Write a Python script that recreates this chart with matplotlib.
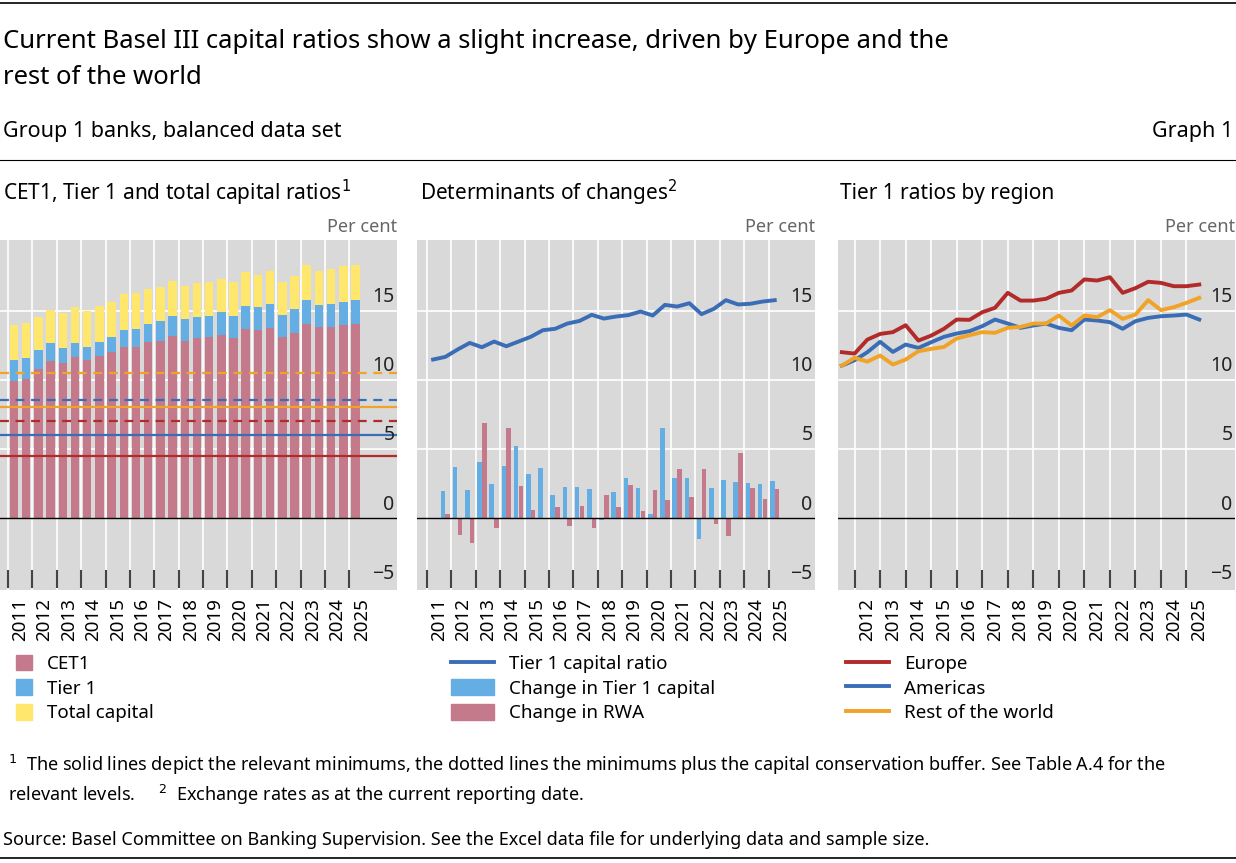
import matplotlib
matplotlib.use("Agg")
import matplotlib.pyplot as plt
from matplotlib.patches import Patch
from matplotlib.lines import Line2D
import numpy as np

plt.rcParams['font.family'] = ['Noto Sans', 'DejaVu Sans']

years_left = [str(y) for y in range(2011, 2026)]
years_right = [str(y) for y in range(2012, 2026)]

cet1 = [9.89,10.08,10.78,11.34,11.22,11.65,11.46,11.75,11.99,12.35,12.40,12.71,12.81,13.15,12.81,13.0,13.1,13.22,13.0,13.68,13.58,13.75,13.1,13.41,14.06,13.80,13.82,13.99,14.06]
tier1 = [11.41,11.60,12.18,12.64,12.30,12.69,12.35,12.74,13.07,13.56,13.68,14.06,14.25,14.64,14.38,14.57,14.64,14.86,14.64,15.36,15.29,15.48,14.71,15.12,15.73,15.41,15.49,15.65,15.73]
total = [13.99,14.11,14.52,15.07,14.83,15.27,14.98,15.36,15.65,16.21,16.26,16.59,16.71,17.12,16.79,16.98,17.05,17.25,17.03,17.78,17.56,17.85,17.10,17.53,18.28,17.87,18.02,18.19,18.31]
# (value, colour, dashed)
min_lines = [(10.5,'#f0a326',True),(8.5,'#3a6db5',True),(8.0,'#f0a326',False),
             (7.0,'#b22b2b',True),(6.0,'#3a6db5',False),(4.5,'#b22b2b',False)]

t1_ratio = [11.46,11.65,12.18,12.66,12.35,12.76,12.42,12.76,13.10,13.58,13.68,14.06,14.25,14.69,14.42,14.57,14.67,14.93,14.64,15.41,15.29,15.53,14.74,15.12,15.75,15.44,15.49,15.65,15.75]
chg_t1 = [1.93,3.67,2.05,4.03,2.46,3.74,5.23,3.21,3.62,1.69,2.27,2.22,2.12,-0.12,1.86,2.92,2.17,0.31,6.49,2.87,2.87,-1.50,2.17,2.75,2.60,2.56,2.44,2.70]
chg_rwa = [0.3,-1.2,-1.8,6.9,-0.7,6.5,2.3,0.6,0.0,0.8,-0.6,0.9,-0.7,1.7,0.8,2.4,0.5,2.05,1.3,3.57,1.5,3.55,-0.4,-1.3,4.7,2.2,1.4,2.1]

europe = [11.99,11.89,12.90,13.31,13.44,13.94,12.83,13.19,13.68,14.35,14.33,14.88,15.20,16.28,15.72,15.72,15.85,16.28,16.45,17.25,17.17,17.41,16.28,16.62,17.08,17.00,16.76,16.76,16.88]
americas = [11.02,11.41,11.99,12.74,12.01,12.54,12.30,12.71,13.10,13.34,13.51,13.87,14.35,14.06,13.75,13.92,14.06,13.75,13.58,14.35,14.28,14.16,13.68,14.23,14.47,14.59,14.64,14.71,14.35]
rest = [11.02,11.58,11.31,11.75,11.10,11.46,12.06,12.23,12.37,12.98,13.22,13.44,13.39,13.75,13.82,14.06,14.06,14.64,13.92,14.64,14.52,15.03,14.40,14.71,15.75,15.03,15.24,15.56,15.92]

C_CET1 = '#c47a8a'; C_T1 = '#64aee3'; C_TOT = '#ffe66d'
C_RED = '#b22b2b'; C_BLUE = '#3a6db5'; C_OR = '#f0a326'
BG = '#d9d9d9'

W, H = 1236, 863
fig = plt.figure(figsize=(W/100, H/100), dpi=100)

def px_axes(x0, x1, y0=240, y1=590):
    return fig.add_axes([x0/W, 1-y1/H, (x1-x0)/W, (y1-y0)/H])

YLIM = (-5.2, 20.1)

def style(ax, grid_x, label_x, labels, label_right):
    ax.set_facecolor(BG)
    for s in ax.spines.values():
        s.set_visible(False)
    ax.set_ylim(*YLIM)
    for v in [5, 10, 15]:
        ax.axhline(v, color='white', lw=1.2, zorder=0)
    for gx in grid_x:
        ax.axvline(gx, color='white', lw=1.2, zorder=0)
        ax.plot([gx, gx], [-3.8, -5.0], color='#444444', lw=1.5, zorder=3)
    ax.axhline(0, color='black', lw=1.0, zorder=4)
    ax.set_yticks([])
    ax.set_xticks(label_x)
    ax.set_xticklabels(labels, rotation=90, fontsize=13.5)
    ax.tick_params(axis='x', length=0, pad=6)
    for v in [-5, 0, 5, 10, 15]:
        ax.text(label_right, v + 0.25, '\u22125' if v < 0 else str(v), ha='right', va='bottom',
                fontsize=14, color='#222222', zorder=5)
    ax.text(1.0, 1.012, 'Per cent', transform=ax.transAxes, ha='right', va='bottom',
            fontsize=13, color='#666666')

n = len(cet1)
x = np.arange(n)
grid = np.arange(-0.5, n, 2)
lab_x = np.arange(0.5, n + 1, 2)

# Left panel
ax1 = px_axes(0, 397)
ax1.set_xlim(-1.15, 31.4)
ax1.bar(x, cet1, width=0.7, color=C_CET1, zorder=2)
ax1.bar(x, np.array(tier1) - np.array(cet1), bottom=cet1, width=0.7, color=C_T1, zorder=2)
ax1.bar(x, np.array(total) - np.array(tier1), bottom=tier1, width=0.7, color=C_TOT, zorder=2)
for v, c, d in min_lines:
    ax1.axhline(v, color=c, lw=1.6, ls=(0, (4, 3)) if d else '-', zorder=3)
style(ax1, grid, lab_x, years_left, 31.2)

# Middle panel
ax2 = px_axes(417, 815)
ax2.set_xlim(-1.32, 31.3)
xb = np.arange(1, n)
ax2.bar(xb - 0.2, chg_t1, width=0.38, color=C_T1, zorder=2)
ax2.bar(xb + 0.2, chg_rwa, width=0.38, color=C_CET1, zorder=2)
ax2.plot(x, t1_ratio, color=C_BLUE, lw=2.8, zorder=3)
style(ax2, grid, lab_x, years_left, 31.1)

# Right panel
ax3 = px_axes(838, 1235)
ax3.set_xlim(-0.3, 30.8)
ax3.plot(x, europe, color=C_RED, lw=2.8, zorder=3)
ax3.plot(x, americas, color=C_BLUE, lw=2.8, zorder=3)
ax3.plot(x, rest, color=C_OR, lw=2.8, zorder=3)
style(ax3, np.arange(1, n, 2), np.arange(2, n + 1, 2), years_right, 30.6)

# Titles / header
fig.add_artist(Line2D([0, 1], [1-3/H, 1-3/H], color='black', lw=1.2))
fig.text(3/W, 1-42/H, 'Current Basel III capital ratios show a slight increase, driven by Europe and the',
         fontsize=18.5, va='center')
fig.text(3/W, 1-78/H, 'rest of the world', fontsize=18.5, va='center')
fig.text(3/W, 1-131/H, 'Group 1 banks, balanced data set', fontsize=15.5, va='center')
fig.text(1-3/W, 1-131/H, 'Graph 1', fontsize=15.5, va='center', ha='right')
fig.add_artist(Line2D([0, 1], [1-160/H, 1-160/H], color='black', lw=0.8))
fig.text(3/W, 1-193/H, 'CET1, Tier 1 and total capital ratios$^1$', fontsize=15, va='center')
fig.text(420/W, 1-193/H, 'Determinants of changes$^2$', fontsize=15, va='center')
fig.text(840/W, 1-193/H, 'Tier 1 ratios by region', fontsize=15, va='center')

leg_kw = dict(frameon=False, fontsize=13.5, handlelength=0.9, handleheight=0.9,
              labelspacing=0.35, borderaxespad=0, handletextpad=0.8)
fig.legend([Patch(color=C_CET1), Patch(color=C_T1), Patch(color=C_TOT)],
           ['CET1', 'Tier 1', 'Total capital'], loc='upper left',
           bbox_to_anchor=(8/W, 1-647/H), **leg_kw)
leg_kw2 = dict(leg_kw); leg_kw2['handlelength'] = 2.3
fig.legend([Line2D([], [], color=C_BLUE, lw=2.8), Patch(color=C_T1), Patch(color=C_CET1)],
           ['Tier 1 capital ratio', 'Change in Tier 1 capital', 'Change in RWA'], loc='upper left',
           bbox_to_anchor=(443/W, 1-647/H), **leg_kw2)
fig.legend([Line2D([], [], color=C_RED, lw=2.8), Line2D([], [], color=C_BLUE, lw=2.8),
            Line2D([], [], color=C_OR, lw=2.8)],
           ['Europe', 'Americas', 'Rest of the world'], loc='upper left',
           bbox_to_anchor=(838/W, 1-647/H), **leg_kw2)

fig.text(8/W, 1-765/H, '$^1$  The solid lines depict the relevant minimums, the dotted lines the minimums plus the capital conservation buffer. See Table A.4 for the',
         fontsize=13, va='center')
fig.text(8/W, 1-795/H, 'relevant levels.     $^2$  Exchange rates as at the current reporting date.',
         fontsize=13, va='center')
fig.text(3/W, 1-840/H, 'Source: Basel Committee on Banking Supervision. See the Excel data file for underlying data and sample size.',
         fontsize=13, va='center')
fig.add_artist(Line2D([0, 1], [1-858/H, 1-858/H], color='black', lw=1.2))

fig.savefig('out.png', dpi=100)
